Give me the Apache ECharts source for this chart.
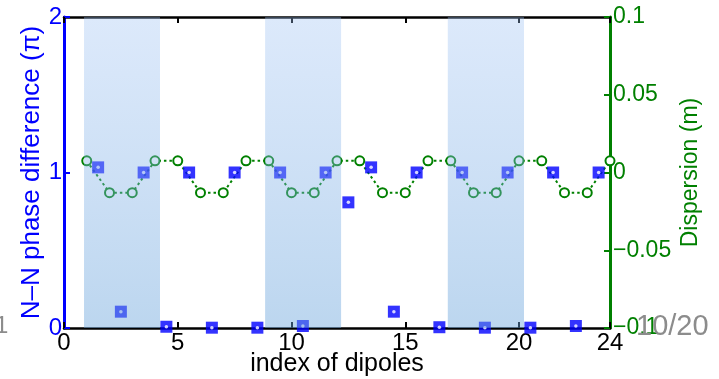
<!DOCTYPE html>
<html>
<head>
<meta charset="utf-8">
<script src="https://cdn.jsdelivr.net/npm/echarts@6/dist/echarts.min.js"></script>
<style>
  html, body { margin: 0; padding: 0; background: #fff; }
  #chart { width: 719px; height: 379px; }
</style>
</head>
<body>
<div id="chart"></div>
<script>
// Dipole positions (half-integer) and the N–N phase difference in units of π
const dipoleIndex = [1.5, 2.5, 3.5, 4.5, 5.5, 6.5, 7.5, 8.5, 9.5, 10.5, 11.5, 12.5,
                     13.5, 14.5, 15.5, 16.5, 17.5, 18.5, 19.5, 20.5, 21.5, 22.5, 23.5];
const phaseDiff = [1.033, 0.105, 1.0, 0.008, 1.0, 0.002, 1.0, 0.002, 1.0, 0.013, 1.0, 0.808,
                   1.033, 0.105, 1.0, 0.005, 1.0, 0.002, 1.0, 0.002, 1.0, 0.013, 1.0];

// Dispersion (m) sampled at the integer positions
const dispIndex = [1, 2, 3, 4, 5, 6, 7, 8, 9, 10, 11, 12,
                   13, 14, 15, 16, 17, 18, 19, 20, 21, 22, 23, 24];
const dispersion = [0.0075, -0.013, -0.013, 0.0075, 0.0075, -0.013, -0.013, 0.0075,
                    0.0075, -0.013, -0.013, 0.0075, 0.0075, -0.013, -0.013, 0.0075,
                    0.0075, -0.013, -0.013, 0.0075, 0.0075, -0.013, -0.013, 0.0075];

// Shaded bands along the lattice
const bandStart = [0.88, 8.84, 16.87];
const bandEnd = [4.22, 12.18, 20.22];

// Tick values
const xTicks = [0, 5, 10, 15, 20, 24];
const phaseTicks = [0, 1, 2];
const dispTicks = [-0.1, -0.05, 0, 0.05, 0.1];

const FONT = 'Liberation Sans, Arial, Helvetica, sans-serif';
const BLUE = '#0000ff';
const GREEN = '#008000';

const chart = echarts.init(document.getElementById('chart'), null, { renderer: 'canvas' });

const fmtDisp = v => {
  const a = Math.round(Math.abs(v) * 100) / 100;
  if (a === 0) return '0';
  return (v < 0 ? '\u2212' : '') + String(a);
};

chart.setOption({
  animation: false,
  backgroundColor: '#fff',
  grid: { left: 64, right: 109, top: 17, bottom: 51, containLabel: false, outerBoundsMode: 'none' },
  xAxis: [
    {
      type: 'value', position: 'bottom', min: 0, max: 24,
      name: 'index of dipoles', nameLocation: 'middle', nameGap: 24, nameMoveOverlap: false,
      nameTextStyle: { fontFamily: FONT, fontSize: 25, color: '#000' },
      axisLine: { show: true, onZero: false, lineStyle: { color: '#000', width: 2.5 } },
      axisTick: { show: true, inside: true, length: 6, customValues: xTicks, lineStyle: { color: '#000', width: 2 } },
      axisLabel: { show: true, customValues: xTicks, margin: 3, fontFamily: FONT, fontSize: 24, color: '#000' },
      splitLine: { show: false }
    },
    {
      type: 'value', position: 'top', min: 0, max: 24,
      axisLine: { show: true, onZero: false, lineStyle: { color: '#000', width: 2.5 } },
      axisTick: { show: true, inside: true, length: 6, customValues: xTicks, lineStyle: { color: '#000', width: 2 } },
      axisLabel: { show: false },
      splitLine: { show: false }
    }
  ],
  yAxis: [
    {
      type: 'value', position: 'left', min: 0, max: 2, interval: 1,
      name: 'N\u2013N phase difference (\u03c0)', nameLocation: 'middle', nameGap: 19, nameRotate: 90, nameMoveOverlap: false,
      nameTextStyle: { fontFamily: FONT, fontSize: 26, color: BLUE },
      axisLine: { show: true, onZero: false, lineStyle: { color: BLUE, width: 3 } },
      axisTick: { show: true, inside: true, length: 6, customValues: phaseTicks, lineStyle: { color: BLUE, width: 2 } },
      axisLabel: { show: true, customValues: phaseTicks, margin: 2, fontFamily: FONT, fontSize: 24, color: BLUE },
      splitLine: { show: false }
    },
    {
      type: 'value', position: 'right', min: -0.1, max: 0.1, interval: 0.05,
      name: 'Dispersion (m)', nameLocation: 'middle', nameGap: 69, nameRotate: 90, nameMoveOverlap: false,
      nameTextStyle: { fontFamily: FONT, fontSize: 23, color: GREEN },
      axisLine: { show: true, onZero: false, lineStyle: { color: GREEN, width: 3 } },
      axisTick: { show: true, inside: true, length: 6, customValues: dispTicks, lineStyle: { color: GREEN, width: 2 } },
      axisLabel: { show: true, customValues: dispTicks, margin: 3, fontFamily: FONT, fontSize: 23, color: GREEN, formatter: fmtDisp },
      splitLine: { show: false }
    }
  ],
  series: [
    {
      name: 'dispersion',
      type: 'line',
      xAxisIndex: 0, yAxisIndex: 1,
      data: dispIndex.map((x, i) => [x, dispersion[i]]),
      symbol: 'emptyCircle', symbolSize: 9, showSymbol: true, showAllSymbol: true,
      itemStyle: { color: GREEN, borderColor: GREEN, borderWidth: 1.4 },
      lineStyle: { color: GREEN, width: 2, type: [2.5, 3] },
      z: 2
    },
    {
      name: 'phase',
      type: 'scatter',
      xAxisIndex: 0, yAxisIndex: 0,
      data: dipoleIndex.map((x, i) => [x, phaseDiff[i]]),
      symbol: 'rect', symbolSize: 12,
      itemStyle: { color: BLUE },
      z: 3
    },
    {
      name: 'phase-centre',
      type: 'scatter',
      xAxisIndex: 0, yAxisIndex: 0,
      data: dipoleIndex.map((x, i) => [x, phaseDiff[i]]),
      symbol: 'circle', symbolSize: 3.5,
      itemStyle: { color: '#fff' },
      z: 4
    },
    {
      name: 'bands',
      type: 'line',
      xAxisIndex: 0, yAxisIndex: 0,
      data: [],
      z: 10,
      markArea: {
        silent: true,
        z: 10,
        itemStyle: {
          color: {
            type: 'linear', x: 0, y: 0, x2: 0, y2: 1,
            colorStops: [
              { offset: 0, color: 'rgba(155,192,243,0.35)' },
              { offset: 1, color: 'rgba(106,164,219,0.45)' }
            ]
          }
        },
        data: bandStart.map((s, i) => [{ xAxis: s }, { xAxis: bandEnd[i] }])
      }
    }
  ],
  graphic: [
    {
      type: 'text', left: -5, top: 314, z: 100,
      style: { text: '1', fontFamily: FONT, fontSize: 24, fill: '#8c8c8c' }
    },
    {
      type: 'text', left: 636, top: 312, z: 100,
      style: { text: '10/20', fontFamily: FONT, fontSize: 29, fill: '#8c8c8c' }
    }
  ]
});
</script>
</body>
</html>
